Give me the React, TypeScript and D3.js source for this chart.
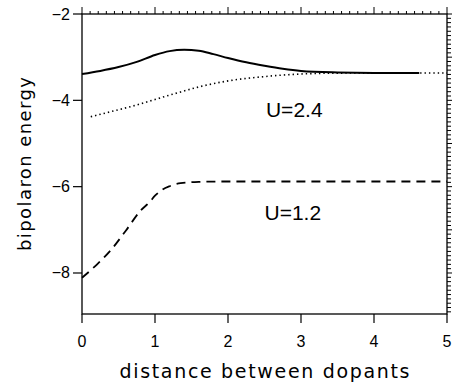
import React, { useRef, useEffect } from 'react';
import * as d3 from 'd3';

// U=2.4, solid line
const solidX = [0, 0.25, 0.5, 0.75, 1.0, 1.2, 1.4, 1.6, 1.8, 2.0, 2.25, 2.5, 2.75, 3.0, 3.5, 4.0, 4.62];
const solidY = [-3.39, -3.32, -3.23, -3.11, -2.95, -2.86, -2.83, -2.85, -2.93, -3.02, -3.12, -3.2, -3.27, -3.32, -3.355, -3.366, -3.366];

// U=2.4, dotted line
const dotX = [0.12, 0.4, 0.7, 1.0, 1.3, 1.6, 2.0, 2.5, 3.0, 3.5, 4.0, 5.0];
const dotY = [-4.38, -4.26, -4.13, -3.98, -3.83, -3.69, -3.55, -3.45, -3.39, -3.37, -3.366, -3.366];

// U=1.2, dashed line
const dashX = [0, 0.2, 0.4, 0.6, 0.8, 0.93, 1.0, 1.1, 1.2, 1.35, 1.6, 2.0, 3.0, 4.0, 5.0];
const dashY = [-8.11, -7.81, -7.46, -7.02, -6.56, -6.35, -6.21, -6.07, -5.99, -5.92, -5.89, -5.88, -5.88, -5.88, -5.88];

const xTicks = [0, 1, 2, 3, 4, 5];
const yTicks = [-2, -4, -6, -8];
const labels = [
  { text: 'U=2.4', x: 2.52, y: -4.38 },
  { text: 'U=1.2', x: 2.5, y: -6.77 },
];

export default function App() {
  const svgRef = useRef(null);

  useEffect(() => {
    const w = 452;
    const h = 387;
    const m = { left: 82, right: 5, top: 14, bottom: 73 };
    const svg = d3.select(svgRef.current);
    svg.selectAll('*').remove();
    svg.attr('width', w).attr('height', h);

    const x = d3.scaleLinear().domain([0, 5]).range([m.left, w - m.right]);
    const y = d3.scaleLinear().domain([-8.95, -2]).range([h - m.bottom, m.top]);
    const x0 = x.range()[0], x1 = x.range()[1];
    const y0 = y.range()[0], y1 = y.range()[1];
    const axisColor = '#000';

    // frame
    svg.append('rect')
      .attr('x', x0).attr('y', y1)
      .attr('width', x1 - x0).attr('height', y0 - y1)
      .attr('fill', 'none').attr('stroke', axisColor).attr('stroke-width', 1.3);

    // top minor ticks (outward)
    const topMinor = d3.range(0, 45 + 1).map(i => i / 9);
    svg.append('g').selectAll('line').data(topMinor).join('line')
      .attr('x1', d => x(d)).attr('x2', d => x(d))
      .attr('y1', y1).attr('y2', (d, i) => y1 - (i % 9 === 0 ? 7 : 3))
      .attr('stroke', axisColor).attr('stroke-width', 1);

    // right minor ticks (outward)
    const rightMinor = d3.range(-89, -19).map(i => i / 10);
    svg.append('g').selectAll('line').data(rightMinor).join('line')
      .attr('x1', x1).attr('x2', d => x1 + (Math.abs(d - Math.round(d)) < 1e-6 ? 6 : 4))
      .attr('y1', d => y(d)).attr('y2', d => y(d))
      .attr('stroke', axisColor).attr('stroke-width', 1);

    // bottom ticks + labels
    const bx = svg.append('g');
    bx.selectAll('line').data(xTicks).join('line')
      .attr('x1', d => x(d)).attr('x2', d => x(d))
      .attr('y1', y0).attr('y2', y0 + 9)
      .attr('stroke', axisColor).attr('stroke-width', 1.2);
    bx.selectAll('text').data(xTicks).join('text')
      .attr('x', d => x(d)).attr('y', y0 + 33)
      .attr('text-anchor', 'middle')
      .style('font-family', 'Liberation Sans, Arial, sans-serif')
      .style('font-size', '16px')
      .text(d => d);

    // left ticks + labels
    const lx = svg.append('g');
    lx.selectAll('line').data(yTicks).join('line')
      .attr('x1', x0 - 9).attr('x2', x0)
      .attr('y1', d => y(d)).attr('y2', d => y(d))
      .attr('stroke', axisColor).attr('stroke-width', 1.2);
    lx.selectAll('text').data(yTicks).join('text')
      .attr('x', x0 - 12).attr('y', d => y(d) + 5.5)
      .attr('text-anchor', 'end')
      .style('font-family', 'Liberation Sans, Arial, sans-serif')
      .style('font-size', '16px')
      .text(d => '\u2212' + Math.abs(d));

    // axis titles
    svg.append('text')
      .attr('x', (x0 + x1) / 2).attr('y', 378)
      .attr('text-anchor', 'middle')
      .attr('textLength', 290).attr('lengthAdjust', 'spacing')
      .style('font-family', 'DejaVu Sans, sans-serif')
      .style('font-size', '19px')
      .text('distance between dopants');
    svg.append('text')
      .attr('transform', `translate(31, ${(y0 + y1) / 2}) rotate(-90)`)
      .attr('text-anchor', 'middle')
      .attr('textLength', 174).attr('lengthAdjust', 'spacing')
      .style('font-family', 'DejaVu Sans, sans-serif')
      .style('font-size', '18px')
      .text('bipolaron energy');

    // curves
    const line = d3.line()
      .x(d => x(d[0])).y(d => y(d[1]))
      .curve(d3.curveMonotoneX);
    const series = [
      { xs: solidX, ys: solidY, dash: null, width: 2 },
      { xs: dotX, ys: dotY, dash: '1.4,3', width: 1.6 },
      { xs: dashX, ys: dashY, dash: '9,6', width: 1.8 },
    ];
    series.forEach(s => {
      svg.append('path')
        .datum(s.xs.map((v, i) => [v, s.ys[i]]))
        .attr('d', line)
        .attr('fill', 'none')
        .attr('stroke', '#000')
        .attr('stroke-width', s.width)
        .attr('stroke-dasharray', s.dash);
    });

    // annotations
    svg.append('g').selectAll('text').data(labels).join('text')
      .attr('x', d => x(d.x)).attr('y', d => y(d.y))
      .style('font-family', 'Liberation Sans, Arial, sans-serif')
      .style('font-size', '21px')
      .text(d => d.text);
  }, []);

  return (
    <div style={{ position: 'absolute', left: 0, top: 0, background: '#fff' }}>
      <svg ref={svgRef} style={{ display: 'block' }}></svg>
    </div>
  );
}
